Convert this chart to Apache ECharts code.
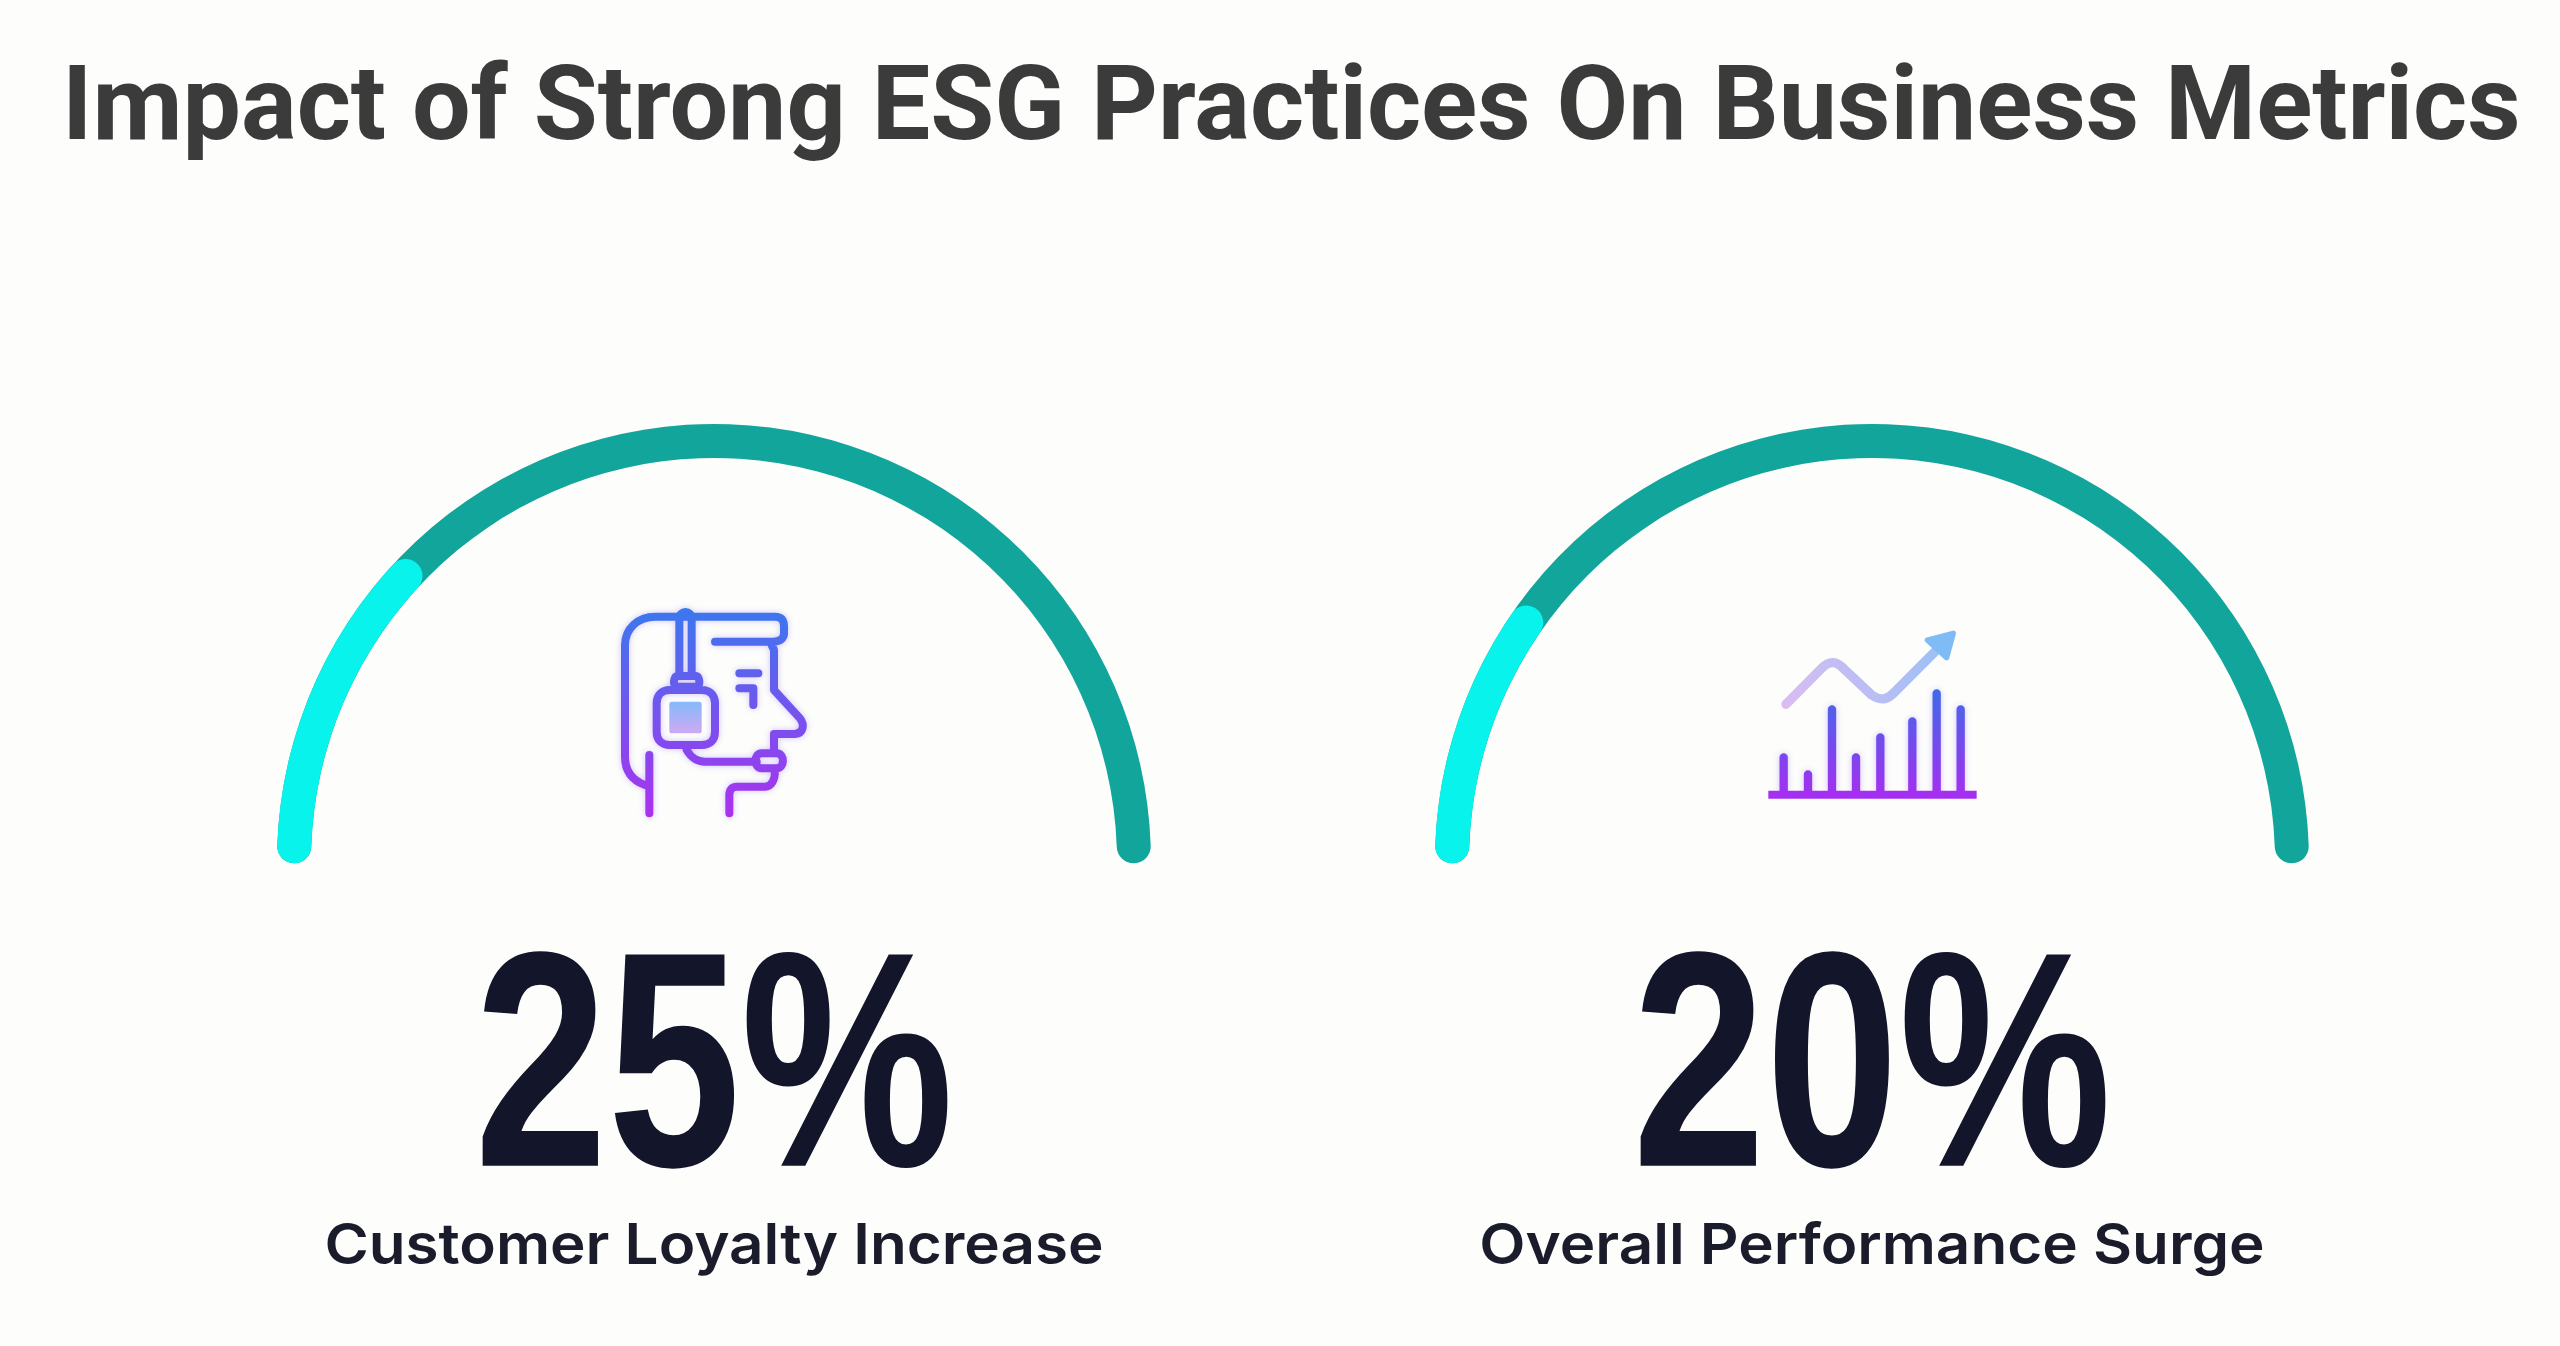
<!DOCTYPE html>
<html>
<head>
<meta charset="utf-8">
<title>ESG</title>
<script src="https://cdn.jsdelivr.net/npm/echarts@6/dist/echarts.min.js"></script>
<style>
html, body { margin: 0; height: 100%; background: #fdfdfb; }
#chart { width: 2560px; height: 1346px; }
</style>
</head>
<body>
<div id="chart"></div>
<script>
const titleText = "Impact of Strong ESG Practices On Business Metrics";
const metricNames = ["Customer Loyalty Increase", "Overall Performance Surge"];
const metricValues = [25, 20];

const headOutline = "M165 585 C125 570 105 540 105 500 L105 165 C105 115 145 80 195 80 L555 80 C575 80 582 92 582 110 L582 130 C582 145 570 155 550 155 L375 155 M545 165 L552 180 L552 300 L630 385 C645 405 640 430 615 432 L552 432 L552 480 M268 255 L268 85 C268 60 305 60 305 85 L305 255 M262 258 L318 258 C330 258 332 290 320 290 L260 290 C248 290 250 258 262 258 M240 300 L335 300 C360 300 375 315 375 340 L375 425 C375 450 360 465 335 465 L240 465 C215 465 200 450 200 425 L200 340 C200 315 215 300 240 300 M290 480 C305 505 320 515 345 515 L500 515 M515 490 L560 490 C585 490 585 535 560 535 L515 535 C490 535 490 490 515 490 M555 540 C555 570 545 590 525 590 L440 590 C425 590 418 600 418 615 L418 670 M178 495 L178 670 M448 250 L505 250 M448 295 L490 295 L490 345";
const trendLine = "M108 283 L215 175 C240 150 260 155 280 175 L365 255 C390 272 410 270 430 250 L555 125";
const iconBars = "M101 545 L101 442 M174 545 L174 493 M246 545 L246 298 M318 545 L318 442 M391 545 L391 382 M487 545 L487 334 M560 545 L560 250 M632 545 L632 298";

echarts.graphic.registerShape("headOutline", echarts.graphic.extendPath(headOutline, {}));
echarts.graphic.registerShape("trendLine", echarts.graphic.extendPath(trendLine, {}));
echarts.graphic.registerShape("iconBars", echarts.graphic.extendPath(iconBars, {}));

const chart = echarts.init(document.getElementById("chart"));

const centers = [714, 1872];
const centerY = 861;

function gradient(top, bottom) {
    return {type: "linear", x: 0, y: 0, x2: 0, y2: 1, colorStops: [
        {offset: 0, color: top},
        {offset: 1, color: bottom}
    ]};
}

// max is a bit over 100 so the round cap ends where the picture's does
const gaugeSeries = metricValues.map((value, index) => ({
    type: "gauge",
    center: [centers[index], centerY],
    radius: 437,
    startAngle: 178,
    endAngle: 2,
    min: 0,
    max: 108,
    silent: true,
    pointer: {show: false},
    axisTick: {show: false},
    splitLine: {show: false},
    axisLabel: {show: false},
    axisLine: {roundCap: true, lineStyle: {width: 34, color: [[1, "#12a59b"]]}},
    progress: {show: true, roundCap: true, width: 34, itemStyle: {color: "#07f3ec"}},
    title: {show: false},
    detail: {show: false},
    data: [{value, name: metricNames[index]}]
}));

const bigNumbers = metricValues.map((value, index) => ({
    type: "text",
    x: centers[index],
    y: 1081,
    scaleX: 0.78,
    style: {
        text: `${value}%`,
        font: '700 307px "Liberation Sans"',
        fill: "#13152a",
        textAlign: "center",
        textVerticalAlign: "middle"
    }
}));

const metricLabels = metricNames.map((name, index) => ({
    type: "text",
    x: centers[index],
    y: 1247,
    scaleX: 1.074,
    style: {
        text: name,
        font: '600 56px Inter',
        fill: "#1b1c2b",
        textAlign: "center",
        textVerticalAlign: "middle"
    }
}));

const iconGlow = {shadowColor: "rgba(120, 90, 240, 0.35)", shadowBlur: 6};

const headIcon = {
    type: "group",
    x: 590,
    y: 590,
    scaleX: 1 / 3,
    scaleY: 1 / 3,
    children: [
        {
            type: "headOutline",
            style: {fill: null, stroke: gradient("#3a78ee", "#ad30ee"), lineWidth: 24, lineCap: "round", lineJoin: "round", ...iconGlow}
        },
        {
            type: "rect",
            shape: {x: 238, y: 335, width: 97, height: 95, r: 8},
            style: {fill: gradient("#84baf9", "#cfa9f4")}
        }
    ]
};

const chartIcon = {
    type: "group",
    x: 1750,
    y: 610,
    scaleX: 1 / 3,
    scaleY: 1 / 3,
    children: [
        {
            type: "trendLine",
            style: {
                fill: null,
                lineWidth: 28,
                lineCap: "round",
                lineJoin: "round",
                stroke: {type: "linear", x: 0, y: 1, x2: 1, y2: 0, colorStops: [
                    {offset: 0, color: "#dcbcf2"},
                    {offset: 1, color: "#9cc0f6"}
                ]}
            }
        },
        {
            type: "polygon",
            shape: {points: [[532, 90], [610, 70], [590, 143]]},
            style: {fill: "#7fbcf6", stroke: "#7fbcf6", lineWidth: 16, lineJoin: "round"}
        },
        {
            type: "iconBars",
            style: {fill: null, stroke: gradient("#3f6ae8", "#a52ff0"), lineWidth: 25, lineCap: "round", ...iconGlow}
        },
        {
            type: "rect",
            shape: {x: 55, y: 542, width: 625, height: 24},
            style: {fill: "#a52ff0"}
        }
    ]
};

chart.setOption({
    animation: false,
    backgroundColor: "#fdfdfb",
    title: {
        text: titleText,
        left: 62,
        top: 61,
        padding: 0,
        textStyle: {
            fontFamily: "Roboto",
            fontWeight: 700,
            fontSize: 104,
            color: "#3b3b3b"
        }
    },
    series: gaugeSeries,
    graphic: {elements: [...bigNumbers, ...metricLabels, headIcon, chartIcon]}
});

window.addEventListener("resize", () => chart.resize());
</script>
</body>
</html>
